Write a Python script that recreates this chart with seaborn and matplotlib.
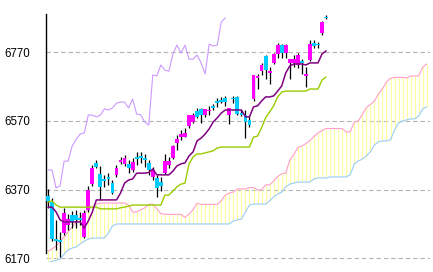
import numpy as np
import matplotlib
matplotlib.use("Agg")
import matplotlib.pyplot as plt
import seaborn as sns

# ---- data ----
opens = [6351, 6334, 6226, 6223, 6244, 6267, 6296, 6296, 6287, 6232,
         6311, 6386, 6448, 6416, 6401, 6407, 6389, 6413, 6451, 6445,
         6445, 6427, 6465, 6468, 6462, 6448, 6407, 6404, 6392, 6418,
         6442, 6462, 6506, 6523, 6523, 6555, 6567, 6599, 6605, 6587,
         6599, 6614, 6628, 6631, 6637, 6587, 6637, 6640, 6593, 6587,
         6573, 6634, 6695, 6715, 6759, 6710, 6739, 6765, 6791, 6768,
         6739, 6739, 6733, 6745, 6701, 6748, 6797, 6794, 6826, 6873]
highs = [6372, 6346, 6282, 6247, 6317, 6299, 6308, 6311, 6305, 6311,
         6381, 6442, 6456, 6439, 6413, 6418, 6398, 6442, 6465, 6471,
         6456, 6462, 6480, 6480, 6474, 6456, 6436, 6413, 6407, 6474,
         6465, 6500, 6529, 6544, 6550, 6587, 6593, 6608, 6608, 6605,
         6614, 6619, 6637, 6640, 6643, 6608, 6643, 6643, 6602, 6602,
         6584, 6704, 6707, 6739, 6762, 6727, 6768, 6797, 6794, 6794,
         6750, 6762, 6768, 6750, 6727, 6806, 6806, 6800, 6861, 6879]
lows = [6317, 6220, 6194, 6174, 6238, 6252, 6258, 6258, 6267, 6229,
        6305, 6381, 6433, 6340, 6378, 6384, 6357, 6407, 6445, 6439,
        6418, 6421, 6442, 6448, 6436, 6413, 6398, 6349, 6366, 6416,
        6433, 6459, 6485, 6515, 6523, 6550, 6564, 6579, 6564, 6582,
        6587, 6602, 6611, 6622, 6614, 6561, 6622, 6587, 6584, 6520,
        6552, 6628, 6663, 6704, 6692, 6678, 6736, 6753, 6753, 6753,
        6692, 6727, 6724, 6707, 6669, 6745, 6783, 6783, 6820, 6867]
closes = [6337, 6226, 6220, 6218, 6302, 6284, 6276, 6282, 6282, 6302,
          6369, 6433, 6436, 6378, 6395, 6401, 6360, 6433, 6456, 6462,
          6433, 6451, 6459, 6462, 6456, 6427, 6427, 6375, 6381, 6453,
          6453, 6497, 6517, 6532, 6535, 6587, 6587, 6582, 6587, 6605,
          6602, 6608, 6622, 6625, 6625, 6608, 6634, 6590, 6588, 6567,
          6558, 6704, 6701, 6733, 6718, 6715, 6765, 6791, 6768, 6791,
          6750, 6750, 6762, 6739, 6707, 6794, 6788, 6791, 6858, 6870]

tenkan = [6319, 6319, 6305, 6282, 6276, 6276, 6276, 6276, 6276, 6258,
          6279, 6305, 6340, 6340, 6340, 6340, 6340, 6340, 6360, 6389,
          6398, 6401, 6418, 6418, 6418, 6420, 6430, 6413, 6413, 6413,
          6413, 6424, 6439, 6445, 6448, 6468, 6480, 6512, 6520, 6532,
          6547, 6567, 6579, 6593, 6602, 6602, 6602, 6602, 6602, 6582,
          6582, 6611, 6614, 6628, 6640, 6640, 6643, 6657, 6672, 6710,
          6730, 6736, 6736, 6736, 6733, 6739, 6739, 6739, 6765, 6774]
kijun = [6334, 6337, 6325, 6319, 6319, 6319, 6319, 6319, 6319, 6319,
         6319, 6319, 6319, 6314, 6314, 6314, 6314, 6314, 6317, 6319,
         6322, 6325, 6325, 6325, 6325, 6325, 6325, 6325, 6325, 6354,
         6354, 6366, 6378, 6386, 6389, 6445, 6465, 6474, 6474, 6477,
         6480, 6483, 6491, 6494, 6494, 6494, 6494, 6494, 6494, 6494,
         6494, 6523, 6526, 6550, 6579, 6596, 6614, 6640, 6654, 6657,
         6657, 6657, 6657, 6657, 6657, 6663, 6663, 6663, 6689, 6698]
span_a = [6191, 6197, 6206, 6218, 6232, 6247, 6261, 6276, 6290, 6299,
          6314, 6319, 6328, 6331, 6331, 6331, 6331, 6331, 6331, 6331,
          6325, 6305, 6305, 6311, 6317, 6327, 6328, 6315, 6300, 6298,
          6298, 6298, 6298, 6298, 6289, 6299, 6312, 6330, 6327, 6327,
          6327, 6327, 6327, 6338, 6354, 6360, 6363, 6372, 6372, 6372,
          6376, 6376, 6369, 6369, 6384, 6384, 6395, 6408, 6416, 6418,
          6456, 6472, 6493, 6497, 6504, 6513, 6525, 6535, 6542, 6548,
          6548, 6548, 6548, 6548, 6538, 6538, 6567, 6570, 6589, 6609,
          6618, 6628, 6649, 6663, 6684, 6694, 6697, 6697, 6697, 6695,
          6701, 6701, 6701, 6727, 6736]
span_b = [6158, 6161, 6164, 6168, 6182, 6194, 6200, 6203, 6212, 6220,
          6226, 6229, 6229, 6229, 6229, 6244, 6264, 6270, 6270, 6270,
          6270, 6270, 6270, 6270, 6270, 6270, 6270, 6270, 6270, 6270,
          6270, 6270, 6270, 6270, 6270, 6270, 6270, 6270, 6270, 6270,
          6270, 6270, 6270, 6270, 6270, 6270, 6279, 6282, 6284, 6305,
          6325, 6328, 6328, 6328, 6328, 6337, 6349, 6357, 6363, 6378,
          6386, 6389, 6392, 6392, 6392, 6392, 6401, 6404, 6404, 6404,
          6407, 6407, 6407, 6407, 6407, 6413, 6445, 6453, 6459, 6468,
          6480, 6500, 6509, 6512, 6512, 6515, 6544, 6564, 6570, 6573,
          6576, 6576, 6584, 6605, 6611]
chikou_shift = 25
yticks = [6170, 6370, 6570, 6770]
ytick_labels = ["6170", "6370", "6570", "6770"]

# ---- figure ----
sns.set_style("white")
plt.rcParams['font.family'] = ['Liberation Sans', 'DejaVu Sans']

W, H = 433, 272
fig = plt.figure(figsize=(W / 100, H / 100), dpi=100)
left_px, right_px, top_px, bot_px = 45.7, 430, 14, 262
ax = fig.add_axes([left_px / W, 1 - bot_px / H,
                   (right_px - left_px) / W, (bot_px - top_px) / H])

o = np.array(opens, float)
h = np.array(highs, float)
l = np.array(lows, float)
c = np.array(closes, float)
idx = np.arange(len(c))
cx = np.arange(len(span_a))

# grid
for yv in yticks:
    ax.axhline(yv, color='#b4b4b4', lw=0.8, linestyle=(0, (4, 2.6)), zorder=0)

# cloud
ax.vlines(cx, np.array(span_b), np.array(span_a), colors='#ffff99', lw=0.8, zorder=1)
sns.lineplot(x=cx, y=span_a, color='#ff9ec8', lw=0.8, ax=ax, zorder=2)
sns.lineplot(x=cx, y=span_b, color='#99ccff', lw=0.8, ax=ax, zorder=2)

# candles
ax.vlines(idx, l, h, colors='black', lw=0.9, zorder=3)
up = c >= o
bottom = np.minimum(o, c)
height = np.maximum(np.abs(c - o), 2.5)
ax.bar(idx, height, bottom=bottom, width=0.95,
       color=np.where(up, '#ff00ff', '#00ccff'), linewidth=0, zorder=4)

# chikou, kijun, tenkan
ch_x = idx[chikou_shift:] - chikou_shift
sns.lineplot(x=ch_x, y=c[chikou_shift:], color='#cc99ff', lw=0.8, ax=ax, zorder=5)
sns.lineplot(x=idx, y=kijun, color='#99cc00', lw=1.0, ax=ax, zorder=6)
sns.lineplot(x=idx, y=tenkan, color='#800080', lw=1.1, ax=ax, zorder=7)

ax.set_xlim(-0.57, 94.8)
ax.set_ylim(6159.2, 6881.5)
ax.set_yticks(yticks)
ax.set_yticklabels(ytick_labels, fontsize=8.3)
ax.set_xticks([])
ax.tick_params(axis='y', length=0, pad=11.2, colors='black')
for s in ['top', 'right', 'bottom']:
    ax.spines[s].set_visible(False)
ax.spines['left'].set_color('black')
ax.spines['left'].set_linewidth(1.0)
ax.spines['left'].set_bounds(6185, 6881.5)
ax.set_xlabel('')
ax.set_ylabel('')
ax.set_facecolor('white')
fig.patch.set_facecolor('white')

fig.savefig('out.png', dpi=100, facecolor='white')
